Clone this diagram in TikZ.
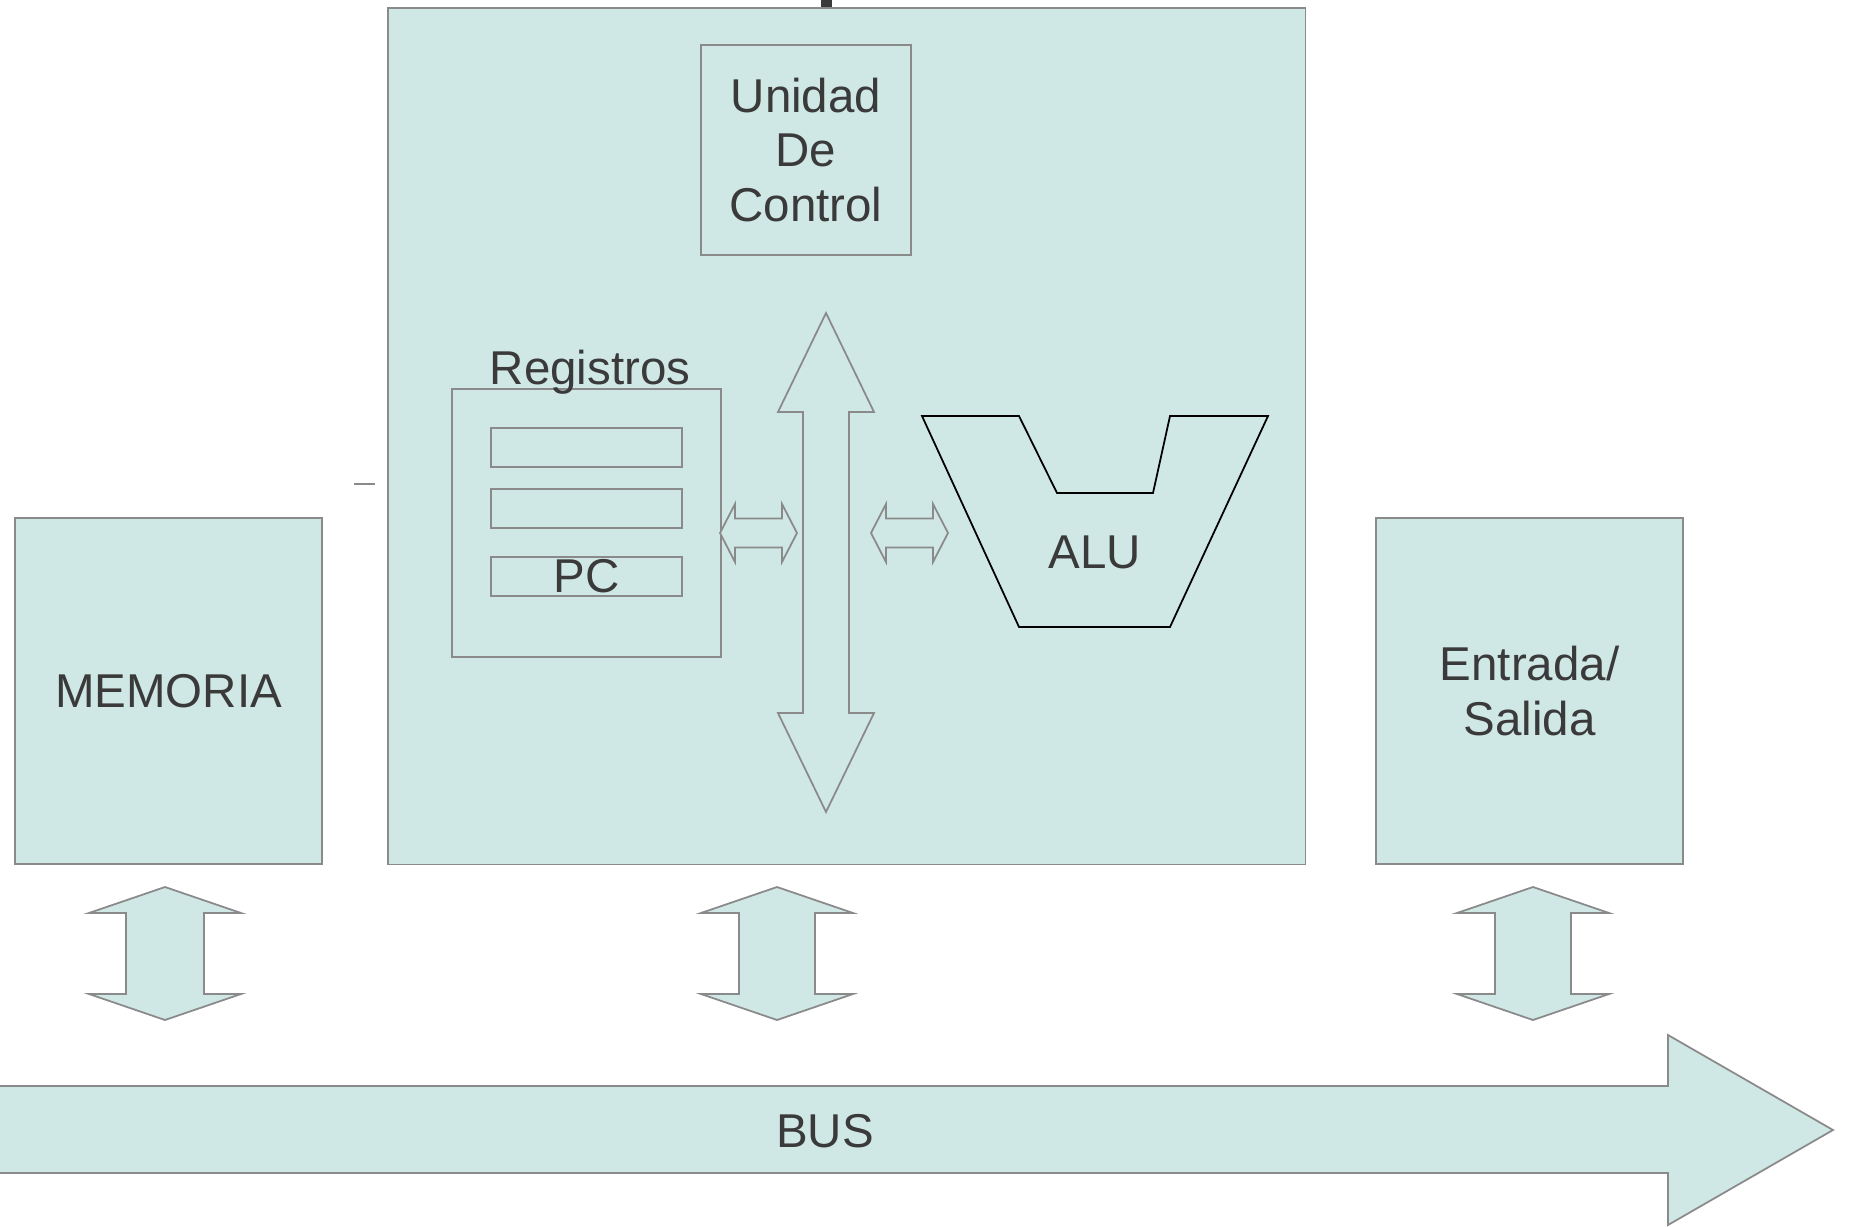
\documentclass[tikz,border=0pt]{standalone}
\usepackage{fontspec}
\setmainfont{Liberation Sans}
\usetikzlibrary{positioning}
\definecolor{cpufill}{HTML}{D0E8E5}
\definecolor{edgegray}{HTML}{8A8A8A}
\definecolor{textgray}{HTML}{3A3A3A}

\tikzset{
  block/.style={draw=edgegray, fill=cpufill, line width=0.5pt, anchor=north west, inner sep=0pt, text=textgray, align=center},
  regslot/.style={draw=edgegray, line width=0.5pt, anchor=north west, inner sep=0pt, text=textgray},
  txt/.style={text=textgray, inner sep=0pt, align=center},
  bigarrow/.style={draw=edgegray, fill=cpufill, line width=0.5pt, line join=miter}
}

% block arrows: centre, first end, second end, head half width, shaft half width, head length
\newcommand{\vbiarrow}[6]{%
  \draw[bigarrow] (#1,#2) -- ({#1+#4},{#2+#6}) -- ({#1+#5},{#2+#6}) -- ({#1+#5},{#3-#6}) -- ({#1+#4},{#3-#6}) -- (#1,#3)
    -- ({#1-#4},{#3-#6}) -- ({#1-#5},{#3-#6}) -- ({#1-#5},{#2+#6}) -- ({#1-#4},{#2+#6}) -- cycle;}
\newcommand{\hbiarrow}[6]{%
  \draw[bigarrow] (#2,#1) -- ({#2+#6},{#1-#4}) -- ({#2+#6},{#1-#5}) -- ({#3-#6},{#1-#5}) -- ({#3-#6},{#1-#4}) -- (#3,#1)
    -- ({#3-#6},{#1+#4}) -- ({#3-#6},{#1+#5}) -- ({#2+#6},{#1+#5}) -- ({#2+#6},{#1+#4}) -- cycle;}

\begin{document}
\begin{tikzpicture}[x=0.01cm, y=-0.01cm, font=\fontsize{13.5pt}{15.5pt}\selectfont]
    \useasboundingbox (0,0) rectangle (1851,1227);

    % procesador
    \node[block, minimum width=9.17cm, minimum height=8.56cm] (cpu) at (387,7) {};
    \fill[textgray] (821,0) rectangle (832,7);
    \draw[edgegray, line width=0.5pt] (354,484) -- (375,484);

    \node[block, minimum width=2.10cm, minimum height=2.10cm] (uc) at (700,44) {Unidad\\De\\Control};

    % registros
    \node[block, minimum width=2.69cm, minimum height=2.68cm] (reg) at (451,388) {};
    \node[txt, anchor=base] (reglbl) at (590,384) {Registros};
    \node[regslot, minimum width=1.91cm, minimum height=0.39cm] (r1) at (490,427) {};
    \node[regslot, minimum width=1.91cm, minimum height=0.39cm] (r2) at (490,488) {};
    \node[regslot, minimum width=1.91cm, minimum height=0.39cm] (pc) at (490,556) {PC};

    % bus interno
    \vbiarrow{826}{313}{812}{48}{23}{99}
    \hbiarrow{533}{720}{797}{29}{14.5}{15}
    \hbiarrow{533}{871}{948}{29}{14.5}{15}

    % ALU
    \draw[black, line width=0.5pt, fill=cpufill] (922,416) -- (1019,416) -- (1057,493) -- (1153,493) -- (1170,416)
        -- (1268,416) -- (1170,627) -- (1019,627) -- cycle;
    \node[txt] (alu) at (1095,552) {ALU};

    % memoria y entrada/salida
    \node[block, minimum width=3.07cm, minimum height=3.46cm] (mem) at (14,517) {MEMORIA};
    \node[block, minimum width=3.07cm, minimum height=3.46cm] (io) at (1375,517) {Entrada/\\Salida};

    % conexiones al bus
    \vbiarrow{165}{887}{1020}{76}{39}{26}
    \vbiarrow{777}{887}{1020}{76}{38}{26}
    \vbiarrow{1533}{887}{1020}{76}{38}{26}

    % BUS
    \fill[cpufill] (0,1086) -- (1668,1086) -- (1668,1035) -- (1833,1130) -- (1668,1225) -- (1668,1173) -- (0,1173) -- cycle;
    \draw[edgegray, line width=0.5pt, line join=miter] (0,1086) -- (1668,1086) -- (1668,1035) -- (1833,1130) -- (1668,1225) -- (1668,1173) -- (0,1173);
    \node[txt] (bus) at (825,1131) {BUS};
\end{tikzpicture}
\end{document}
